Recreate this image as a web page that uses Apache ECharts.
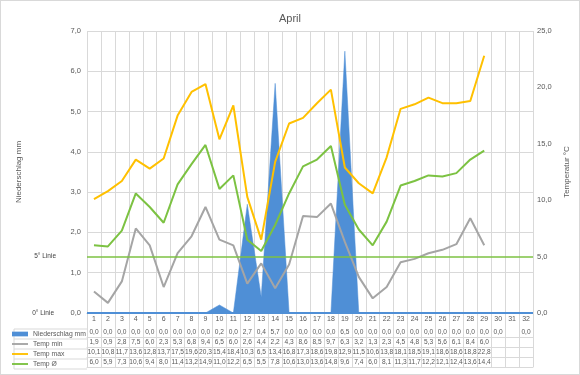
<!DOCTYPE html>
<html>
<head>
<meta charset="utf-8">
<script src="https://cdn.jsdelivr.net/npm/echarts@6/dist/echarts.min.js"></script>
<style>
html,body{margin:0;padding:0;background:#fff;}
#c{width:580px;height:375px;box-sizing:border-box;border:1px solid #d9d9d9;}
</style>
</head>
<body>
<div id="c"></div>
<script>
const days = ['1','2','3','4','5','6','7','8','9','10','11','12','13','14','15','16','17','18','19','20','21','22','23','24','25','26','27','28','29','30','31','32'];
const niederschlag = [0,0,0,0,0,0,0,0,0,0.2,0,2.7,0.4,5.7,0,0,0,0,6.5,0,0,0,0,0,0,0,0,0,0,0,null,0];
const tempMin = [1.9,0.9,2.8,7.5,6.0,2.3,5.3,6.8,9.4,6.5,6.0,2.6,4.4,2.2,4.3,8.6,8.5,9.7,6.3,3.2,1.3,2.3,4.5,4.8,5.3,5.6,6.1,8.4,6.0];
const tempMax = [10.1,10.8,11.7,13.6,12.8,13.7,17.5,19.6,20.3,15.4,18.4,10.3,6.5,13.4,16.8,17.3,18.6,19.8,12.9,11.5,10.6,13.8,18.1,18.5,19.1,18.6,18.6,18.8,22.8];
const tempAvg = [6.0,5.9,7.3,10.6,9.4,8.0,11.4,13.2,14.9,11.0,12.2,6.5,5.5,7.8,10.6,13.0,13.6,14.8,9.6,7.4,6.0,8.1,11.3,11.7,12.2,12.1,12.4,13.6,14.4];
const seriesNames = ['Niederschlag mm','Temp min','Temp max','Temp Ø'];
const refLines = [{name:'5° Linie', value:5}, {name:'0° Linie', value:0}];

const fmt = v => (v === null || v === undefined) ? '' : v.toFixed(1).replace('.', ',');
const rowVals = arr => days.map((d,i) => fmt(arr[i]));

const C_RAIN = '#4f8fd6', C_MIN = '#a5a5a5', C_MAX = '#ffc000', C_AVG = '#7cc242';
const TXT = '#595959', GRID = '#d9d9d9';
const FONT = "'Liberation Sans',Arial,sans-serif";

const G_LEFT = 86, G_RIGHT = 42, G_TOP = 30, G_BOTTOM = 61;

function tableAxis(arr, offset, showLabel) {
  return {
    type: 'category', data: arr ? rowVals(arr) : days.map(()=>''), position: 'bottom', offset: offset,
    axisLine: {show: true, lineStyle: {color: GRID, width: 1}},
    axisTick: {show: false},
    axisLabel: {show: showLabel, interval: 0, margin: 5, verticalAlign: 'middle', fontSize: 6.6, color: TXT, fontFamily: FONT},
    splitLine: {show: false}
  };
}

const chart = echarts.init(document.getElementById('c'), null, {renderer: 'canvas'});
const option = {
  animation: false,
  textStyle: {fontFamily: FONT},
  title: {text: 'April', left: 'center', top: 7, textStyle: {fontSize: 11, fontWeight: 'normal', color: TXT, fontFamily: FONT}},
  grid: {left: G_LEFT, right: G_RIGHT, top: G_TOP, bottom: G_BOTTOM, containLabel: false},
  legend: {
    orient: 'vertical', left: 11, top: 328, padding: 0, itemGap: 0,
    itemWidth: 16, itemHeight: 10,
    textStyle: {fontSize: 6.8, color: TXT, lineHeight: 10, fontFamily: FONT},
    data: [
      {name: seriesNames[0], icon: 'path://M0,0h17v5h-17z'},
      {name: seriesNames[1], icon: 'path://M0,0h17v2h-17z'},
      {name: seriesNames[2], icon: 'path://M0,0h17v2h-17z'},
      {name: seriesNames[3], icon: 'path://M0,0h17v2h-17z'}
    ],
    selectedMode: false
  },
  xAxis: [
    {
      type: 'category', data: days, position: 'bottom',
      axisLine: {show: true, lineStyle: {color: GRID}},
      axisTick: {show: true, interval: 0, length: 54, lineStyle: {color: GRID}},
      axisLabel: {interval: 0, margin: 3, fontSize: 7, color: TXT, fontFamily: FONT},
      splitLine: {show: true, interval: 0, lineStyle: {color: GRID}}
    },
    tableAxis(niederschlag, 14, true),
    tableAxis(tempMin, 24, true),
    tableAxis(tempMax, 34, true),
    tableAxis(tempAvg, 44, true),
    tableAxis(null, 54, false)
  ],
  yAxis: [
    {
      type: 'value', min: 0, max: 7, interval: 1, position: 'left',
      name: 'Niederschlag mm', nameLocation: 'middle', nameRotate: 90, nameGap: 64,
      nameTextStyle: {fontSize: 8, color: TXT, fontFamily: FONT},
      axisLine: {show: false}, axisTick: {show: false},
      axisLabel: {formatter: v => fmt(v), fontSize: 7.5, color: TXT, margin: 6, fontFamily: FONT},
      splitLine: {show: true, lineStyle: {color: GRID}}
    },
    {
      type: 'value', min: 0, max: 25, interval: 5, position: 'right',
      name: 'Temperatur °C', nameLocation: 'middle', nameRotate: 90, nameGap: 30,
      nameTextStyle: {fontSize: 8, color: TXT, fontFamily: FONT},
      axisLine: {show: false}, axisTick: {show: false},
      axisLabel: {formatter: v => fmt(v), fontSize: 7.5, color: TXT, margin: 4, fontFamily: FONT},
      splitLine: {show: false}
    }
  ],
  series: [
    {
      name: seriesNames[0], type: 'line', xAxisIndex: 0, yAxisIndex: 0, data: niederschlag,
      symbol: 'none', color: C_RAIN, lineStyle: {width: 0.5, color: C_RAIN},
      areaStyle: {color: C_RAIN, opacity: 1}, z: 1
    },
    {
      name: seriesNames[1], type: 'line', xAxisIndex: 0, yAxisIndex: 1, data: tempMin,
      symbol: 'none', color: C_MIN, lineStyle: {width: 2, color: C_MIN}, z: 3
    },
    {
      name: seriesNames[2], type: 'line', xAxisIndex: 0, yAxisIndex: 1, data: tempMax,
      symbol: 'none', color: C_MAX, lineStyle: {width: 2, color: C_MAX}, z: 3
    },
    {
      name: seriesNames[3], type: 'line', xAxisIndex: 0, yAxisIndex: 1, data: tempAvg,
      symbol: 'none', color: C_AVG, lineStyle: {width: 2, color: C_AVG}, z: 3,
      markLine: {
        silent: true, symbol: 'none', animation: false,
        data: [
          {name: refLines[0].name, yAxis: refLines[0].value, lineStyle: {color: C_AVG, width: 1.5, type: 'solid'},
           label: {show: true, position: 'start', distance: 31, formatter: refLines[0].name, fontSize: 6.5, color: '#404040', fontFamily: FONT}},
          {name: refLines[1].name, yAxis: refLines[1].value, lineStyle: {color: C_RAIN, width: 2, type: 'solid'},
           label: {show: true, position: 'start', distance: 33, formatter: refLines[1].name, fontSize: 6.5, color: '#404040', fontFamily: FONT}}
        ]
      }
    }
  ],
  graphic: [
    {type: 'group', silent: true, children: [
      {type: 'line', shape: {x1: 13, y1: 328, x2: G_LEFT, y2: 328}, style: {stroke: GRID, lineWidth: 1}},
      {type: 'line', shape: {x1: 13, y1: 338, x2: G_LEFT, y2: 338}, style: {stroke: GRID, lineWidth: 1}},
      {type: 'line', shape: {x1: 13, y1: 348, x2: G_LEFT, y2: 348}, style: {stroke: GRID, lineWidth: 1}},
      {type: 'line', shape: {x1: 13, y1: 358, x2: G_LEFT, y2: 358}, style: {stroke: GRID, lineWidth: 1}},
      {type: 'line', shape: {x1: 13, y1: 368, x2: G_LEFT, y2: 368}, style: {stroke: GRID, lineWidth: 1}},
      {type: 'line', shape: {x1: 13, y1: 328, x2: 13, y2: 368}, style: {stroke: GRID, lineWidth: 1}}
    ]}
  ]
};
chart.setOption(option);
</script>
</body>
</html>
